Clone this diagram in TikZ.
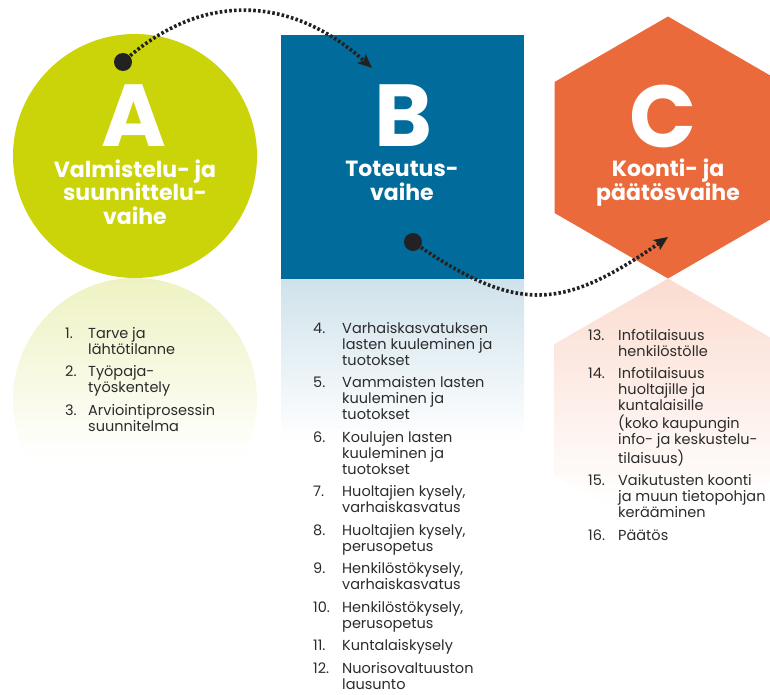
\documentclass[tikz,border=0pt]{standalone}
\usepackage{fontspec}
\setmainfont{Poppins}
\usetikzlibrary{arrows.meta}

\definecolor{phasegreen}{HTML}{CBD409}
\definecolor{phaseblue}{HTML}{016B9B}
\definecolor{phaseorange}{HTML}{EB6A3B}
\definecolor{palegreen}{HTML}{EEF2C2}
\definecolor{paleblue}{HTML}{CFE2EB}
\definecolor{paleorange}{HTML}{FBDCD0}
\definecolor{arrowgray}{HTML}{222222}
\definecolor{textgray}{HTML}{2B2B2B}

\begin{document}
\begin{tikzpicture}[x=1pt,y=-1pt,
		bigletter/.style={text=white,font=\fontsize{88}{88}\selectfont\bfseries,inner sep=0pt,text depth=0pt,anchor=base},
		phasename/.style={text=white,font=\fontsize{22}{23.5}\selectfont\bfseries,align=center,inner sep=0pt,anchor=base},
		flowdot/.style={circle,fill=arrowgray,inner sep=0pt,minimum size=18pt},
		flowarrow/.style={draw=arrowgray,line width=3.6pt,dash pattern=on 2.6pt off 2.2pt,-{Stealth[length=14pt,width=12pt,inset=3pt]}},
		steplist/.style={text=textgray,font=\fontsize{14.5}{16}\selectfont,inner sep=0pt,anchor=base west}
		]
		\useasboundingbox (0,0) rectangle (770,695);
		\clip (0,0) rectangle (770,695);
		
		% reflections
		\begin{scope}
			\clip (135,400) circle [radius=122];
			\shade[top color=palegreen,bottom color=white] (0,278) rectangle (280,460);
		\end{scope}
		\shade[top color=paleblue,bottom color=white] (281,279) rectangle (524,440);
		\begin{scope}
			\clip (668,278.5) -- (781.5,344) -- (781.5,475) -- (668,540.5) -- (554.5,475) -- (554.5,344) -- cycle;
			\shade[top color=paleorange,bottom color=white] (550,278) rectangle (790,505);
		\end{scope}
		
		% phases
		\fill[phasegreen] (135,156) circle [radius=122];
		\fill[phaseblue] (281,35) rectangle (524,279);
		\fill[phaseorange] (668,16.5) -- (781.5,82) -- (781.5,213) -- (668,278.5) -- (554.5,213) -- (554.5,82) -- cycle;
		
		% base anchor = last line
		\node[bigletter] (letterA) at (134,147) {A};
		\node[phasename] (nameA) at (135,224) {Valmistelu- ja\\suunnittelu-\\vaihe};
		\node[bigletter] (letterB) at (403,147) {B};
		\node[phasename] (nameB) at (402,200) {Toteutus-\\vaihe};
		\node[bigletter] (letterC) at (663,148) {C};
		\node[phasename] (nameC) at (668,200) {Koonti- ja\\päätösvaihe};
		
		% arrows
		\node[flowdot] (dotA) at (123,62) {};
		\coordinate (tipB) at (372,68);
		\draw[flowarrow] (dotA.center) .. controls (202,-10) and (292,-4) .. (tipB);
		\node[flowdot] (dotB) at (413,242) {};
		\coordinate (tipC) at (668,237);
		\draw[flowarrow] (dotB.center) .. controls (518,315) and (563,310) .. (tipC);
		
		% lists
		\node[steplist] (listA) at (65,338) {\begin{tabular}[t]{@{}p{23pt}@{}l@{}}
				1. & Tarve ja\\
				& lähtötilanne\\[6.5pt]
				2. & Työpaja-\\
				& työskentely\\[6.5pt]
				3. & Arviointiprosessin\\
				& suunnitelma
		\end{tabular}};
		\node[steplist] (listB) at (313,333) {\begin{tabular}[t]{@{}p{29pt}@{}l@{}}
				4. & Varhaiskasvatuksen\\
				& lasten kuuleminen ja\\
				& tuotokset\\[6.5pt]
				5. & Vammaisten lasten\\
				& kuuleminen ja\\
				& tuotokset\\[6.5pt]
				6. & Koulujen lasten\\
				& kuuleminen ja\\
				& tuotokset\\[6.5pt]
				7. & Huoltajien kysely,\\
				& varhaiskasvatus\\[6.5pt]
				8. & Huoltajien kysely,\\
				& perusopetus\\[6.5pt]
				9. & Henkilöstökysely,\\
				& varhaiskasvatus\\[6.5pt]
				10. & Henkilöstökysely,\\
				& perusopetus\\[6.5pt]
				11. & Kuntalaiskysely\\[6.5pt]
				12. & Nuorisovaltuuston\\
				& lausunto
		\end{tabular}};
		\node[steplist] (listC) at (588,340) {\begin{tabular}[t]{@{}p{30pt}@{}l@{}}
				13. & Infotilaisuus\\
				& henkilöstölle\\[6.5pt]
				14. & Infotilaisuus\\
				& huoltajille ja\\
				& kuntalaisille\\
				& (koko kaupungin\\
				& info- ja keskustelu-\\
				& tilaisuus)\\[6.5pt]
				15. & Vaikutusten koonti\\
				& ja muun tietopohjan\\
				& kerääminen\\[6.5pt]
				16. & Päätös
		\end{tabular}};
\end{tikzpicture}
\end{document}
